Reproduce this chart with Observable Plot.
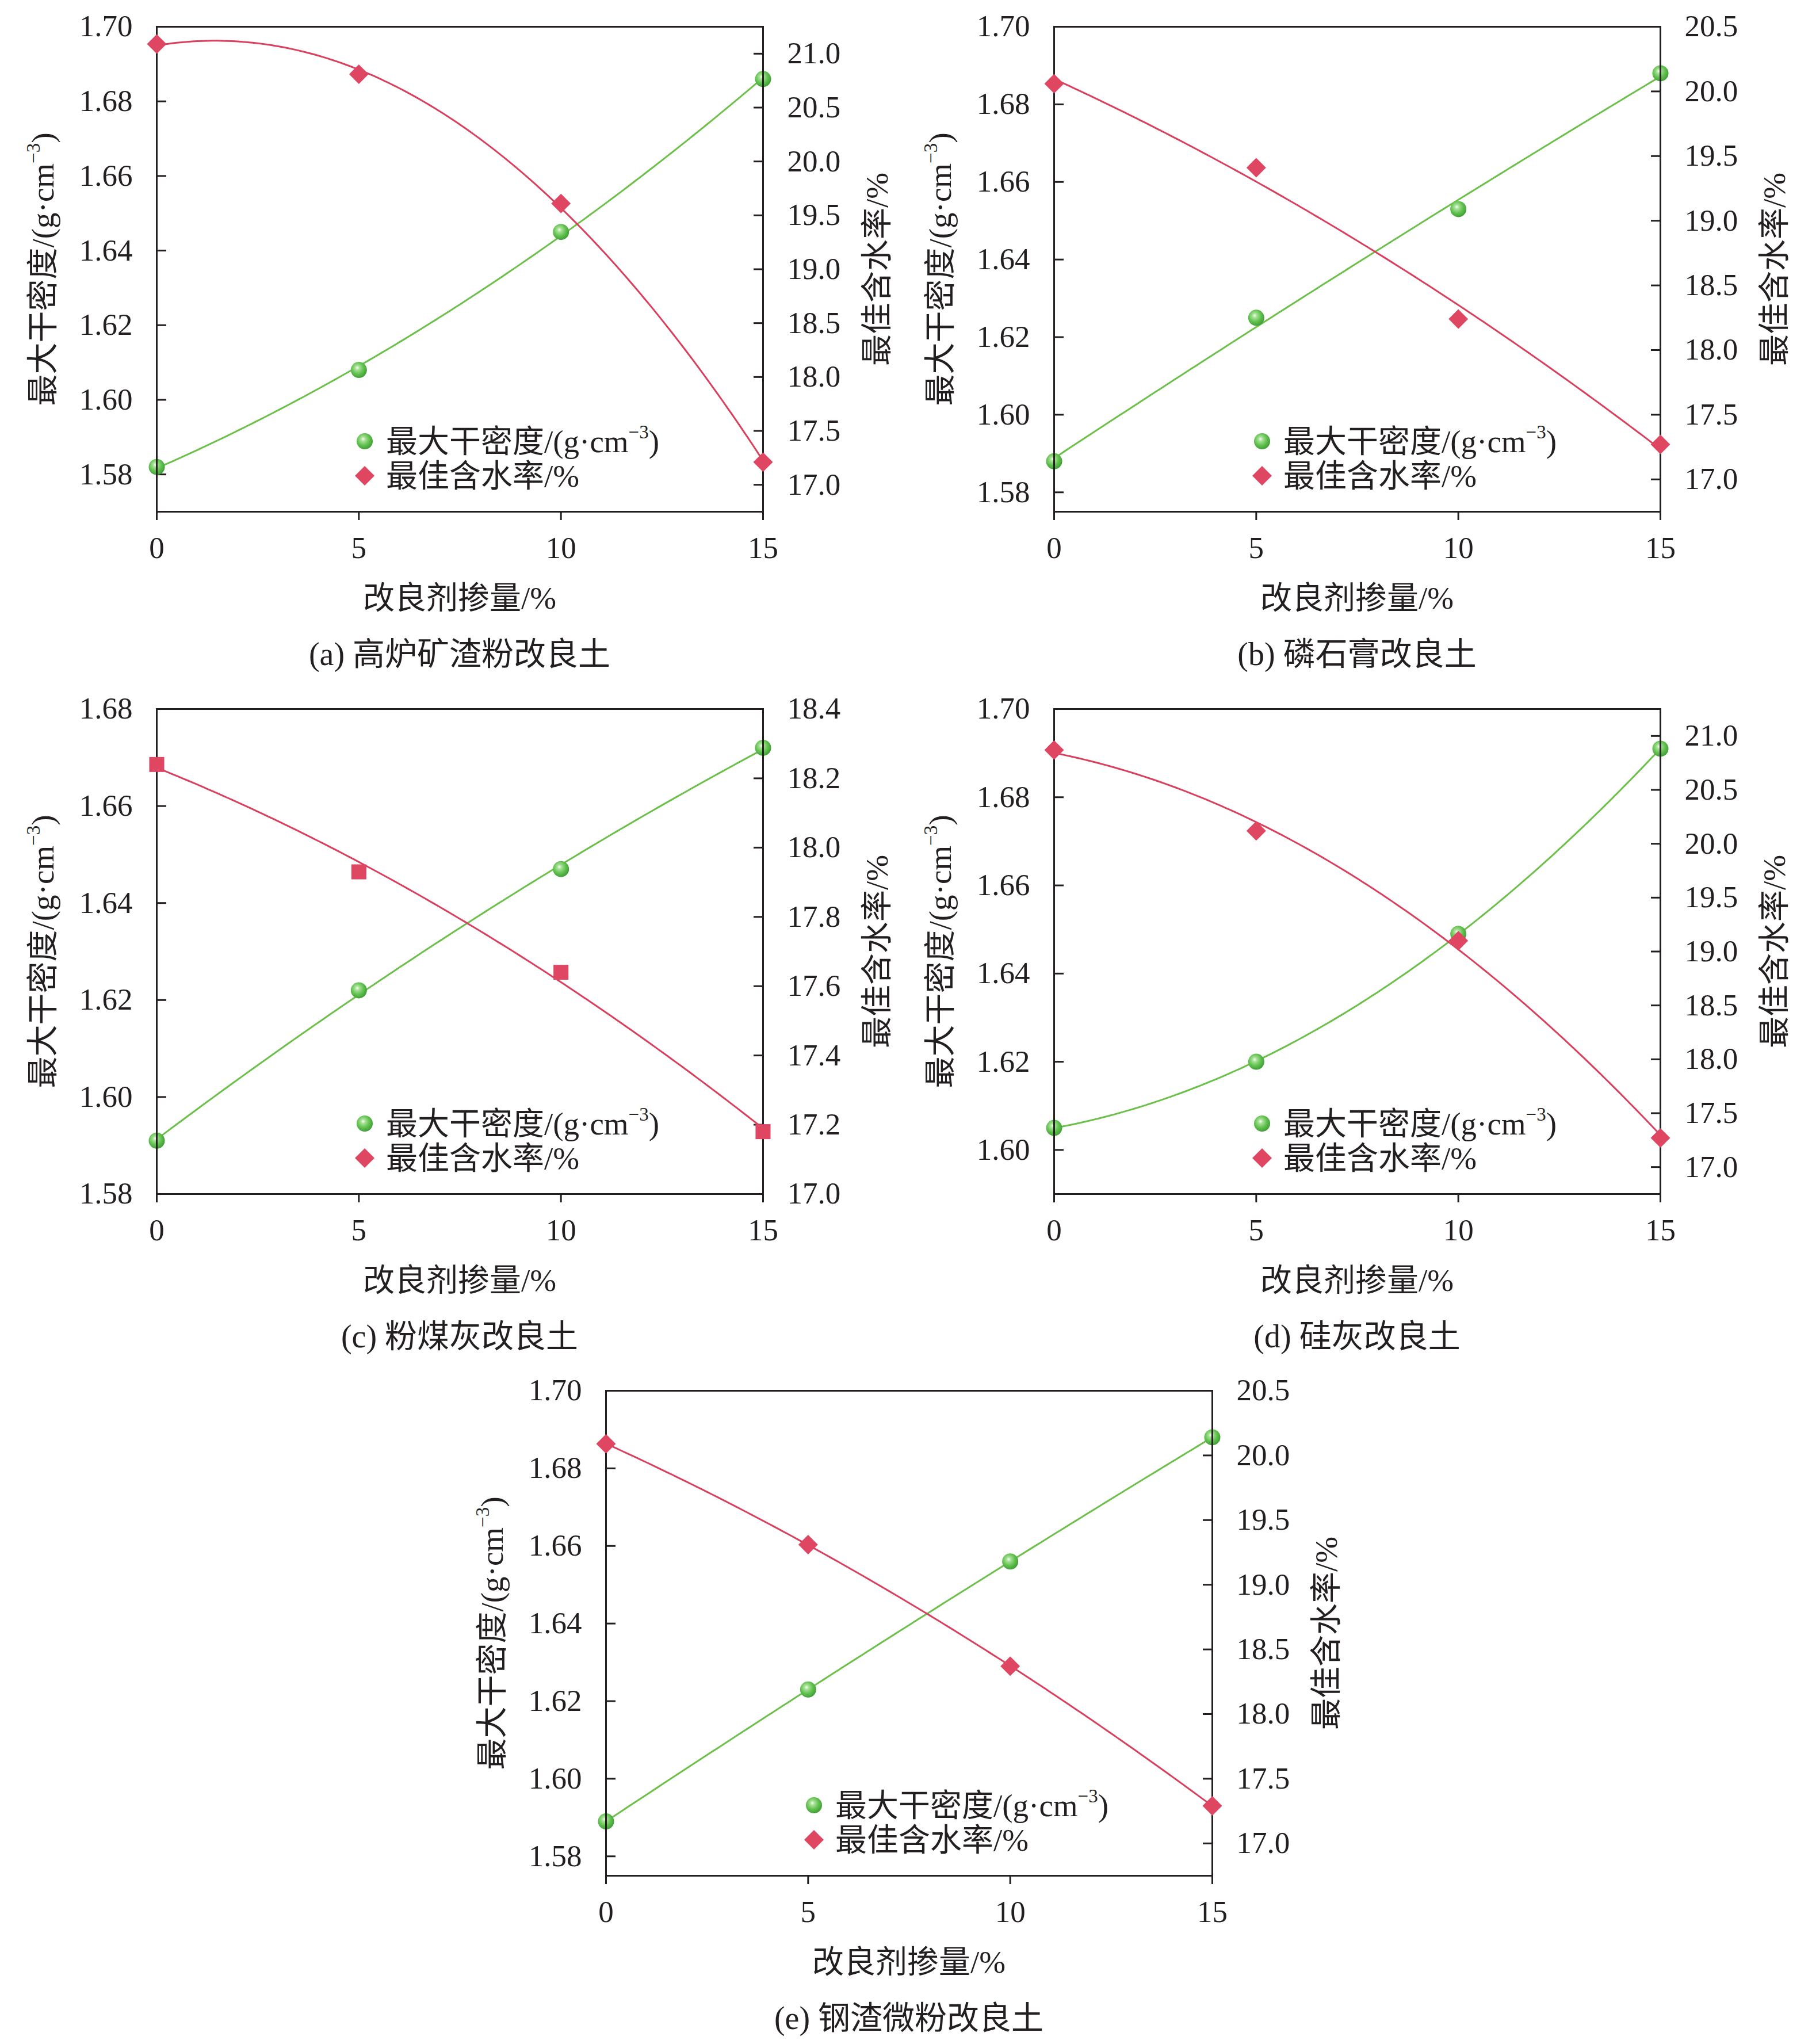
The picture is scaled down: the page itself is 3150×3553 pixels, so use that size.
<!DOCTYPE html>
<html>
<head>
<meta charset="utf-8">
<script src="https://cdn.jsdelivr.net/npm/d3@7"></script>
<script src="https://cdn.jsdelivr.net/npm/@observablehq/plot@0.6"></script>
<style>
  html, body { margin: 0; padding: 0; background: #fff; }
  #page { position: relative; width: 3150px; height: 3553px; background: #fff; overflow: hidden;
          font-family: "Liberation Serif", "Noto Sans CJK SC", serif; color: #231f20; }
  .layer { position: absolute; }
  .layer svg { display: block; max-width: none; }
  .t { position: absolute; white-space: nowrap; line-height: 1; font-size: 55px; }
  .t sup { font-size: 0.6em; vertical-align: 0.7em; line-height: 0; }
  .center { transform: translate(-50%, -50%); }
  .rot { transform: translate(-50%, -50%) rotate(-90deg); }
  .leg { transform: translate(0, -50%); }
  .cap { font-size: 56px; }
</style>
</head>
<body>
<div id="page"></div>
<script>
// ---------------- data ----------------
const dosage = [0, 5, 10, 15];
const xTicks = [0, 5, 10, 15];

const densityA  = [1.582, 1.608, 1.645, 1.686];
const moistureA = [21.09, 20.81, 19.61, 17.21];
const densityB  = [1.588, 1.625, 1.653, 1.688];
const moistureB = [20.06, 19.41, 18.24, 17.27];
const densityC  = [1.591, 1.622, 1.647, 1.672];
const moistureC = [18.24, 17.93, 17.64, 17.18];
const densityD  = [1.605, 1.620, 1.649, 1.691];
const moistureD = [20.87, 20.12, 19.10, 17.27];
const densityE  = [1.589, 1.623, 1.656, 1.688];
const moistureE = [20.09, 19.31, 18.37, 17.29];

const leftTicksA  = [1.58, 1.60, 1.62, 1.64, 1.66, 1.68, 1.70];
const rightTicksA = [17.0, 17.5, 18.0, 18.5, 19.0, 19.5, 20.0, 20.5, 21.0];
const leftTicksB  = [1.58, 1.60, 1.62, 1.64, 1.66, 1.68, 1.70];
const rightTicksB = [17.0, 17.5, 18.0, 18.5, 19.0, 19.5, 20.0, 20.5];
const leftTicksC  = [1.58, 1.60, 1.62, 1.64, 1.66, 1.68];
const rightTicksC = [17.0, 17.2, 17.4, 17.6, 17.8, 18.0, 18.2, 18.4];
const leftTicksD  = [1.60, 1.62, 1.64, 1.66, 1.68, 1.70];
const rightTicksD = [17.0, 17.5, 18.0, 18.5, 19.0, 19.5, 20.0, 20.5, 21.0];
const leftTicksE  = [1.58, 1.60, 1.62, 1.64, 1.66, 1.68, 1.70];
const rightTicksE = [17.0, 17.5, 18.0, 18.5, 19.0, 19.5, 20.0, 20.5];

const leftDomainA = [1.57, 1.70],  rightDomainA = [16.75, 21.25];
const leftDomainB = [1.575, 1.70], rightDomainB = [16.75, 20.5];
const leftDomainC = [1.58, 1.68],  rightDomainC = [17.0, 18.4];
const leftDomainD = [1.59, 1.70],  rightDomainD = [16.75, 21.25];
const leftDomainE = [1.575, 1.70], rightDomainE = [16.75, 20.5];

const captions = ["(a) 高炉矿渣粉改良土", "(b) 磷石膏改良土", "(c) 粉煤灰改良土", "(d) 硅灰改良土", "(e) 钢渣微粉改良土"];
const xTitle = "改良剂掺量/%";
const densityName = "最大干密度/(g·cm<sup>−3</sup>)";
const moistureName = "最佳含水率/%";

// ---------------- style ----------------
const INK = "#231f20";
const GREEN_LINE = "#6cc04a";
const RED = "#de4662";
const RED_LINE = "#d9405e";
const FW = 1054, FH = 843;            // frame size
const ML = 200, MR = 200, MT = 40, MB = 120;
const FONT = "'Liberation Serif', 'Noto Sans CJK SC', serif";

// quadratic least-squares trendline computed from the data points
function quadFit(xs, ys) {
  const S = [0, 0, 0, 0, 0], T = [0, 0, 0];
  xs.forEach((x, i) => {
    for (let k = 0; k < 5; k++) S[k] += Math.pow(x, k);
    for (let k = 0; k < 3; k++) T[k] += ys[i] * Math.pow(x, k);
  });
  const A = [[S[0], S[1], S[2], T[0]], [S[1], S[2], S[3], T[1]], [S[2], S[3], S[4], T[2]]];
  for (let c = 0; c < 3; c++) {
    for (let r = c + 1; r < 3; r++) {
      const f = A[r][c] / A[c][c];
      for (let k = c; k < 4; k++) A[r][k] -= f * A[c][k];
    }
  }
  const coef = [0, 0, 0];
  for (let r = 2; r >= 0; r--) {
    let s = A[r][3];
    for (let k = r + 1; k < 3; k++) s -= A[r][k] * coef[k];
    coef[r] = s / A[r][r];
  }
  const x0 = d3.min(xs), x1 = d3.max(xs);
  return d3.range(x0, x1 + 1e-9, (x1 - x0) / 120).map(x => ({x, y: coef[0] + coef[1] * x + coef[2] * x * x}));
}

function gradDefs(id) {
  return () => {
    const d = document.createElementNS("http://www.w3.org/2000/svg", "defs");
    d.innerHTML = `<radialGradient id="${id}" cx="0.42" cy="0.4" r="0.62" fx="0.4" fy="0.36">
      <stop offset="0" stop-color="#f4fff0"/><stop offset="0.22" stop-color="#a6e096"/>
      <stop offset="0.6" stop-color="#62c24f"/><stop offset="1" stop-color="#3f9d36"/></radialGradient>`;
    return d;
  };
}

const page = document.getElementById("page");
function addText(html, x, y, cls) {
  const el = document.createElement("div");
  el.className = "t " + cls;
  el.style.left = x + "px";
  el.style.top = y + "px";
  el.innerHTML = html;
  page.appendChild(el);
  return el;
}

function makePanel(p, idx) {
  const W = FW + ML + MR, H = FH + MT + MB;
  const gid = "sphere" + idx;
  const dRows = dosage.map((x, i) => ({x, y: p.density[i]}));
  const wRows = dosage.map((x, i) => ({x, y: p.moisture[i]}));
  const style = {fontFamily: FONT, fontSize: "53px", color: INK, background: "transparent", overflow: "visible"};

  const base = Plot.plot({
    width: W, height: H, marginLeft: ML, marginRight: MR, marginTop: MT, marginBottom: MB,
    style,
    x: {domain: [0, 15]},
    y: {domain: p.leftDomain},
    marks: [
      gradDefs(gid),
      Plot.axisX(xTicks, {tickSize: 15, tickPadding: 28, strokeWidth: 3, stroke: INK, label: null, tickFormat: d => String(d)}),
      Plot.axisY(p.leftTicks, {anchor: "left", tickSize: -17, tickPadding: 59, strokeWidth: 3, stroke: INK, label: null, tickFormat: d => d.toFixed(2)}),
      Plot.line(quadFit(dosage, p.density), {x: "x", y: "y", stroke: GREEN_LINE, strokeWidth: 3}),
      Plot.dot(dRows, {x: "x", y: "y", r: 14, fill: `url(#${gid})`}),
      Plot.frame({stroke: INK, strokeWidth: 3})
    ]
  });

  const over = Plot.plot({
    width: W, height: H, marginLeft: ML, marginRight: MR, marginTop: MT, marginBottom: MB,
    style,
    x: {domain: [0, 15], axis: null},
    y: {domain: p.rightDomain},
    marks: [
      Plot.axisY(p.rightTicks, {anchor: "right", tickSize: -17, tickPadding: 59, strokeWidth: 3, stroke: INK, label: null, tickFormat: d => d.toFixed(1)}),
      Plot.line(quadFit(dosage, p.moisture), {x: "x", y: "y", stroke: RED_LINE, strokeWidth: 3}),
      Plot.dot(wRows, {x: "x", y: "y", symbol: p.symbol, r: p.symbol === "square" ? 14.7 : 15.3, fill: RED})
    ]
  });

  for (const svg of [base, over]) {
    const layer = document.createElement("div");
    layer.className = "layer";
    layer.style.left = (p.fx - ML) + "px";
    layer.style.top = (p.fy - MT) + "px";
    layer.appendChild(svg);
    page.appendChild(layer);
  }

  const cx = p.fx + FW / 2, cy = p.fy + FH / 2, bottom = p.fy + FH;
  addText(densityName, p.fx - 198, cy, "rot");
  addText(moistureName, p.fx + FW + 198, cy, "rot");
  addText(xTitle, cx, bottom + 150, "center");
  addText(p.caption, cx, bottom + 248, "center cap");

  // legend
  const lx = p.fx + 362, ly1 = p.fy + 721, ly2 = ly1 + 60;
  const leg = document.createElement("div");
  leg.className = "layer";
  leg.style.left = (lx - 25) + "px";
  leg.style.top = (ly1 - 25) + "px";
  leg.innerHTML = `<svg width="50" height="110" viewBox="-25 -25 50 110">
    <defs><radialGradient id="leg${gid}" cx="0.42" cy="0.4" r="0.62" fx="0.4" fy="0.36">
      <stop offset="0" stop-color="#f4fff0"/><stop offset="0.22" stop-color="#a6e096"/>
      <stop offset="0.6" stop-color="#62c24f"/><stop offset="1" stop-color="#3f9d36"/></radialGradient></defs>
    <circle cx="0" cy="0" r="14" fill="url(#leg${gid})"/>
    <path d="M0,43 L17,60 L0,77 L-17,60 Z" fill="${RED}"/></svg>`;
  page.appendChild(leg);
  addText(densityName, p.fx + 399, ly1, "leg");
  addText(moistureName, p.fx + 399, ly2, "leg");
}

const panels = [
  {fx: 272,  fy: 46,   density: densityA, moisture: moistureA, leftTicks: leftTicksA, rightTicks: rightTicksA, leftDomain: leftDomainA, rightDomain: rightDomainA, symbol: "diamond2", caption: captions[0]},
  {fx: 1832, fy: 46,   density: densityB, moisture: moistureB, leftTicks: leftTicksB, rightTicks: rightTicksB, leftDomain: leftDomainB, rightDomain: rightDomainB, symbol: "diamond2", caption: captions[1]},
  {fx: 272,  fy: 1232, density: densityC, moisture: moistureC, leftTicks: leftTicksC, rightTicks: rightTicksC, leftDomain: leftDomainC, rightDomain: rightDomainC, symbol: "square",   caption: captions[2]},
  {fx: 1832, fy: 1232, density: densityD, moisture: moistureD, leftTicks: leftTicksD, rightTicks: rightTicksD, leftDomain: leftDomainD, rightDomain: rightDomainD, symbol: "diamond2", caption: captions[3]},
  {fx: 1053, fy: 2417, density: densityE, moisture: moistureE, leftTicks: leftTicksE, rightTicks: rightTicksE, leftDomain: leftDomainE, rightDomain: rightDomainE, symbol: "diamond2", caption: captions[4]}
];
panels.forEach(makePanel);
</script>
</body>
</html>
